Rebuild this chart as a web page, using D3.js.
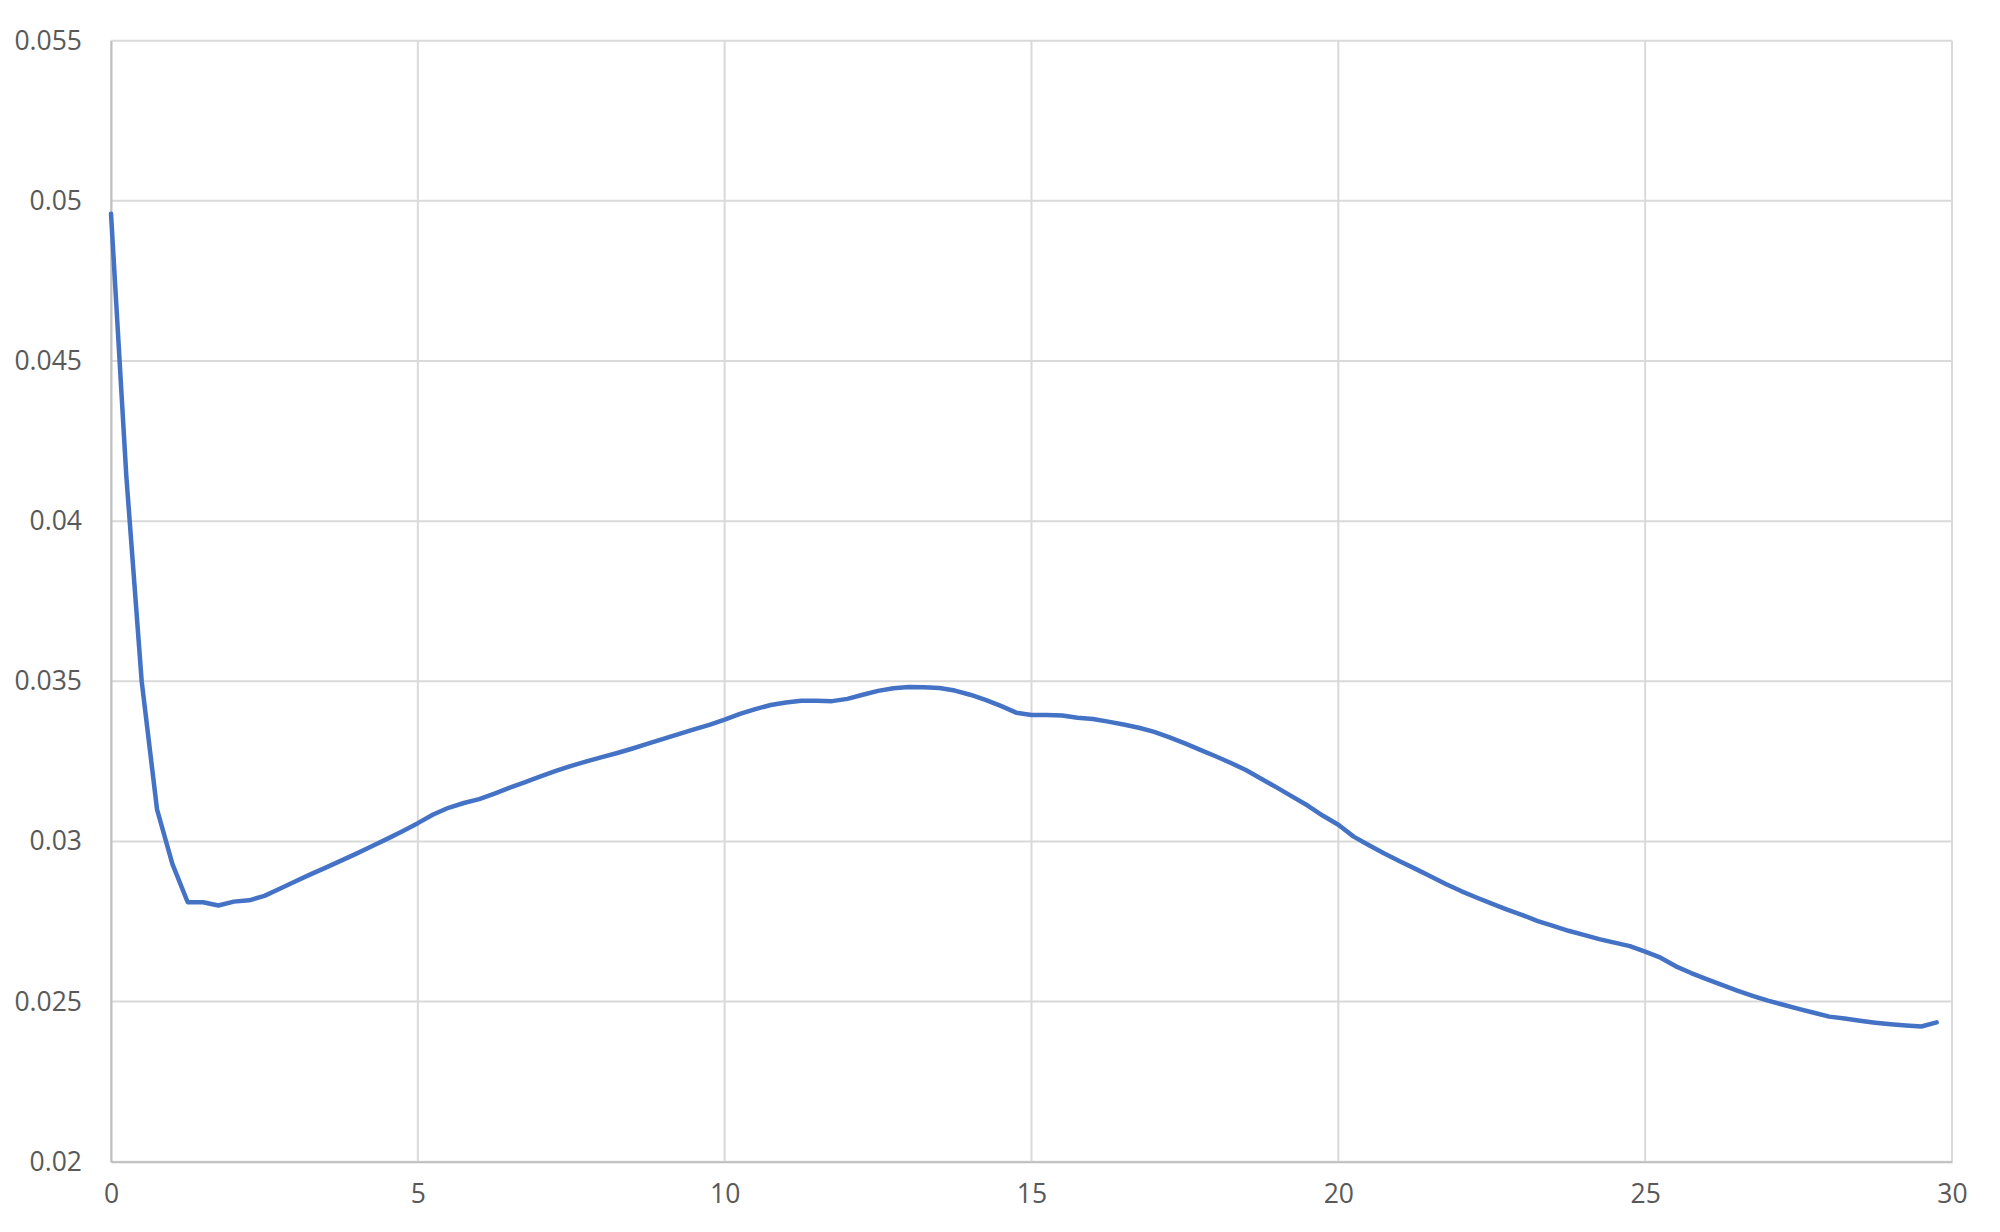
<!DOCTYPE html>
<html>
<head>
<meta charset="utf-8">
<script src="https://cdn.jsdelivr.net/npm/d3@7"></script>
<style>
  html, body { margin: 0; padding: 0; background: #ffffff; }
  svg { display: block; }
  .tick text { font-family: "Open Sans", "Noto Sans", sans-serif; font-size: 26.5px; fill: #595959; }
</style>
</head>
<body>
<svg id="chart" width="2000" height="1232"></svg>
<script>
const xValues = [
  0, 0.25, 0.5, 0.75, 1, 1.25, 1.5, 1.75, 2, 2.25, 2.5, 2.75, 3, 3.25, 3.5, 3.75,
  4, 4.25, 4.5, 4.75, 5, 5.25, 5.5, 5.75, 6, 6.25, 6.5, 6.75, 7, 7.25, 7.5, 7.75,
  8, 8.25, 8.5, 8.75, 9, 9.25, 9.5, 9.75, 10, 10.25, 10.5, 10.75, 11, 11.25, 11.5, 11.75,
  12, 12.25, 12.5, 12.75, 13, 13.25, 13.5, 13.75, 14, 14.25, 14.5, 14.75, 15, 15.25, 15.5, 15.75,
  16, 16.25, 16.5, 16.75, 17, 17.25, 17.5, 17.75, 18, 18.25, 18.5, 18.75, 19, 19.25, 19.5, 19.75,
  20, 20.25, 20.5, 20.75, 21, 21.25, 21.5, 21.75, 22, 22.25, 22.5, 22.75, 23, 23.25, 23.5, 23.75,
  24, 24.25, 24.5, 24.75, 25, 25.25, 25.5, 25.75, 26, 26.25, 26.5, 26.75, 27, 27.25, 27.5, 27.75,
  28, 28.25, 28.5, 28.75, 29, 29.25, 29.5, 29.75
];
const yValues = [
  0.0496, 0.0414, 0.0350, 0.0310, 0.0293, 0.0281, 0.0281, 0.0280, 0.02812, 0.02816, 0.02830, 0.02852, 0.02875, 0.02897, 0.02918, 0.02940,
  0.02962, 0.02985, 0.03008, 0.03032, 0.03057, 0.03084, 0.03105, 0.03120, 0.03132, 0.03149, 0.03168, 0.03185, 0.03203, 0.03220, 0.03236, 0.03250,
  0.03263, 0.03276, 0.03290, 0.03305, 0.03320, 0.03335, 0.03350, 0.03364, 0.03380, 0.03398, 0.03413, 0.03426, 0.03434, 0.03439, 0.03439, 0.03438,
  0.03445, 0.03458, 0.03470, 0.03478, 0.03482, 0.03481, 0.03479, 0.03471, 0.03458, 0.03442, 0.03423, 0.03402, 0.03395, 0.03395, 0.03393, 0.03386,
  0.03382, 0.03374, 0.03365, 0.03355, 0.03342, 0.03325, 0.03306, 0.03286, 0.03266, 0.03245, 0.03222, 0.03195, 0.03168, 0.03140, 0.03112, 0.03080,
  0.03052, 0.03015, 0.02988, 0.02962, 0.02938, 0.02915, 0.02891, 0.02867, 0.02845, 0.02825, 0.02806, 0.02787, 0.02770, 0.02751, 0.02736, 0.02721,
  0.02708, 0.02695, 0.02684, 0.02673, 0.02656, 0.02637, 0.02610, 0.02589, 0.02570, 0.02552, 0.02534, 0.02518, 0.02503, 0.02490, 0.02477, 0.02465,
  0.02453, 0.02447, 0.02440, 0.02434, 0.02429, 0.02425, 0.02422, 0.02435
];
const xTicks = [0, 5, 10, 15, 20, 25, 30];
const xTickLabels = ["0", "5", "10", "15", "20", "25", "30"];
const yTicks = [0.02, 0.025, 0.03, 0.035, 0.04, 0.045, 0.05, 0.055];
const yTickLabels = ["0.02", "0.025", "0.03", "0.035", "0.04", "0.045", "0.05", "0.055"];

(function () {
  const svg = d3.select("#chart");
  const pLeft = 111, pRight = 1952, pTop = 40.7, pBottom = 1161.7;

  const x = d3.scaleLinear().domain([0, 30]).range([pLeft, pRight]);
  const y = d3.scaleLinear().domain([0.02, 0.055]).range([pBottom, pTop]);

  // Gridlines
  svg.append("g")
    .selectAll("line")
    .data(yTicks)
    .join("line")
    .attr("x1", pLeft).attr("x2", pRight)
    .attr("y1", d => y(d)).attr("y2", d => y(d))
    .attr("stroke", "#d9d9d9").attr("stroke-width", 2);

  svg.append("g")
    .selectAll("line")
    .data(xTicks)
    .join("line")
    .attr("x1", d => x(d)).attr("x2", d => x(d))
    .attr("y1", pTop).attr("y2", pBottom)
    .attr("stroke", "#d9d9d9").attr("stroke-width", 2);

  // Axes
  const yAxis = d3.axisLeft(y)
    .tickValues(yTicks)
    .tickFormat((d, i) => yTickLabels[i])
    .tickSize(0)
    .tickPadding(29);
  const gy = svg.append("g").attr("transform", `translate(${pLeft},0)`).call(yAxis);
  gy.select(".domain").attr("stroke", "#bfbfbf").attr("stroke-width", 2);

  const xAxis = d3.axisBottom(x)
    .tickValues(xTicks)
    .tickFormat((d, i) => xTickLabels[i])
    .tickSize(0)
    .tickPadding(22);
  const gx = svg.append("g").attr("transform", `translate(0,${pBottom})`).call(xAxis);
  gx.select(".domain").attr("stroke", "#bfbfbf").attr("stroke-width", 2);

  // Line
  const data = xValues.map((d, i) => [d, yValues[i]]);
  const line = d3.line().x(d => x(d[0])).y(d => y(d[1]));
  svg.append("path")
    .datum(data)
    .attr("d", line)
    .attr("fill", "none")
    .attr("stroke", "#4472c4")
    .attr("stroke-width", 4.5)
    .attr("stroke-linejoin", "round")
    .attr("stroke-linecap", "round");
})();
</script>
</body>
</html>
